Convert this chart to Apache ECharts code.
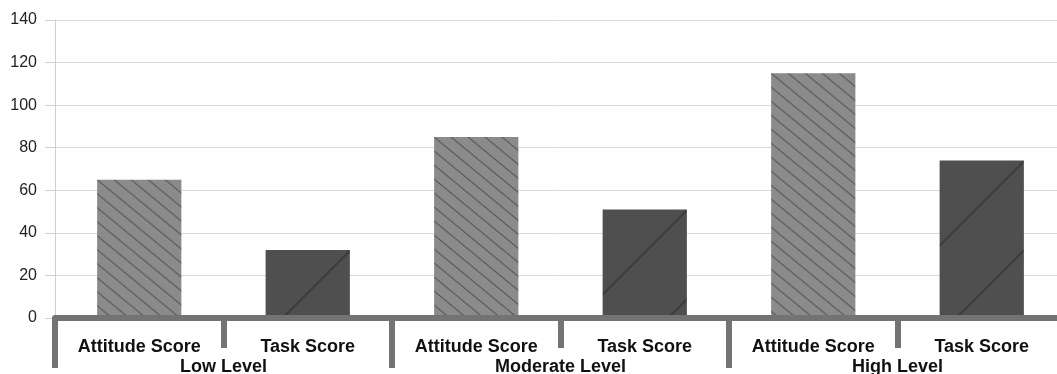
<!DOCTYPE html>
<html>
<head>
<meta charset="utf-8">
<script src="https://cdn.jsdelivr.net/npm/echarts@6/dist/echarts.min.js"></script>
<style>
  html, body { margin: 0; padding: 0; background: #ffffff; }
  #chart { width: 1057px; height: 374px; }
</style>
</head>
<body>
<div id="chart"></div>
<script>
// Group (outer) categories and the two measures shown inside each group
const levels = ['Low Level', 'Moderate Level', 'High Level'];
const measures = ['Attitude Score', 'Task Score'];

// Scores per level
const attitudeScores = [65, 85, 115];
const taskScores = [32, 51, 74];

// Value axis range
const yMin = 0;
const yMax = 140;
const yStep = 20;

// Inner category labels: measures repeated for each level
const innerCategories = [];
const values = [];
const kinds = [];
levels.forEach(function (lv, i) {
  innerCategories.push(measures[0], measures[1]);
  values.push(attitudeScores[i], taskScores[i]);
  kinds.push('attitude', 'task');
});

// Build a repeating hatch tile: solid fill with one diagonal line
function makeTile(w, h, fill, stroke, lineWidth, rising) {
  const c = document.createElement('canvas');
  c.width = w; c.height = h;
  const g = c.getContext('2d');
  g.fillStyle = fill;
  g.fillRect(0, 0, w, h);
  g.strokeStyle = stroke;
  g.lineWidth = lineWidth;
  [-w, 0, w].forEach(function (dx) {
    g.beginPath();
    if (rising) { g.moveTo(dx - w, 2 * h); g.lineTo(dx + 2 * w, -h); }
    else { g.moveTo(dx - w, -h); g.lineTo(dx + 2 * w, 2 * h); }
    g.stroke();
  });
  return c;
}

const attitudeTile = makeTile(17, 14, '#8b8b8b', '#424242', 1.0, false);
const taskTile = makeTile(89, 89, '#4f4f4f', '#2c2c2c', 1.1, true);

function itemColor(kind, x, y) {
  if (kind === 'attitude') {
    return { image: attitudeTile, repeat: 'repeat', x: x, y: y };
  }
  return { image: taskTile, repeat: 'repeat', x: x - 4, y: y };
}

function buildData(offsets) {
  return values.map(function (v, i) {
    const o = offsets ? offsets[i] : { x: 0, y: 0 };
    return { value: v, itemStyle: { color: itemColor(kinds[i], o.x, o.y) } };
  });
}

const chart = echarts.init(document.getElementById('chart'), null, { renderer: 'canvas' });

const labelFont = {
  color: '#111111',
  fontFamily: 'Liberation Sans, Arial, sans-serif',
  fontWeight: 'bold',
  fontSize: 18
};

const option = {
  animation: false,
  backgroundColor: '#ffffff',
  grid: {
    left: 55,
    right: -9,
    top: 20,
    bottom: 56,
    containLabel: false,
    outerBoundsMode: 'none'
  },
  xAxis: [
    {
      type: 'category',
      data: innerCategories,
      position: 'bottom',
      z: 3,
      axisLine: { show: true, lineStyle: { color: '#737373', width: 6 } },
      axisTick: { show: true, length: 30, lineStyle: { color: '#737373', width: 6 } },
      axisLabel: Object.assign({ interval: 0, margin: 20 }, labelFont),
      splitLine: { show: false }
    },
    {
      type: 'category',
      data: levels,
      position: 'bottom',
      z: 3,
      axisLine: { show: false },
      axisTick: { show: true, length: 50, lineStyle: { color: '#737373', width: 6 } },
      axisLabel: Object.assign({ interval: 0, margin: 40 }, labelFont),
      splitLine: { show: false }
    }
  ],
  yAxis: {
    type: 'value',
    min: yMin,
    max: yMax,
    interval: yStep,
    axisLine: { show: true, lineStyle: { color: '#cfcfcf', width: 1 } },
    axisTick: { show: true, length: 10, lineStyle: { color: '#cfcfcf', width: 1 } },
    axisLabel: {
      margin: 18,
      color: '#222222',
      fontFamily: 'Liberation Sans, Arial, sans-serif',
      fontSize: 16
    },
    splitLine: { show: true, lineStyle: { color: '#dadada', width: 1 } }
  },
  series: [
    {
      type: 'bar',
      xAxisIndex: 0,
      yAxisIndex: 0,
      barWidth: '50%',
      data: buildData(null)
    }
  ]
};

chart.setOption(option);

// Anchor each bar's hatch pattern to the bar's own top-left corner
const seriesData = chart.getModel().getSeriesByIndex(0).getData();
const offsets = values.map(function (v, i) {
  const l = seriesData.getItemLayout(i);
  return {
    x: Math.min(l.x, l.x + l.width),
    y: Math.min(l.y, l.y + l.height)
  };
});
chart.setOption({ series: [{ data: buildData(offsets) }] });
</script>
</body>
</html>
